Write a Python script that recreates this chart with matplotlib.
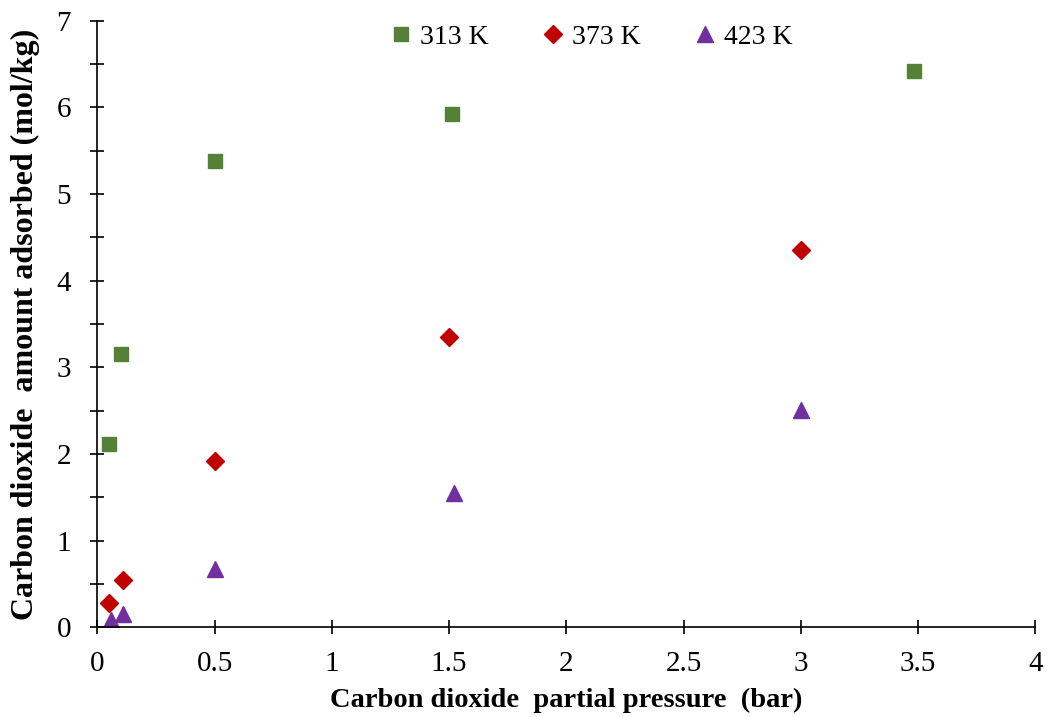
import matplotlib.pyplot as plt
from matplotlib.ticker import MultipleLocator, FuncFormatter

# Data
p_313 = [0.05, 0.1, 0.5, 1.51, 3.48]
q_313 = [2.12, 3.15, 5.38, 5.92, 6.42]

p_373 = [0.05, 0.11, 0.5, 1.5, 3.0]
q_373 = [0.28, 0.55, 1.92, 3.35, 4.35]

p_423 = [0.06, 0.11, 0.5, 1.52, 3.0]
q_423 = [0.08, 0.16, 0.67, 1.55, 2.51]

plt.rcParams['font.family'] = ['Liberation Serif', 'DejaVu Serif']

fig = plt.figure(figsize=(10.47, 7.17), dpi=100)
ax = fig.add_axes([0.093, 0.125, 0.896, 0.846])

ax.plot(p_313, q_313, 's', color='#538135', markersize=10, label='313 K', linestyle='none')
ax.plot(p_373, q_373, 'D', color='#C00000', markersize=9, label='373 K', linestyle='none')
ax.plot(p_423, q_423, '^', color='#7030A0', markersize=12, label='423 K', linestyle='none')

ax.set_xlim(0, 4)
ax.set_ylim(0, 7)
ax.xaxis.set_major_locator(MultipleLocator(0.5))
ax.yaxis.set_major_locator(MultipleLocator(1))
ax.yaxis.set_minor_locator(MultipleLocator(0.5))
ax.xaxis.set_major_formatter(FuncFormatter(lambda v, pos: '%g' % v))
ax.tick_params(which='both', direction='inout', length=10, width=1.2, labelsize=21)
ax.tick_params(axis='y', pad=14)
ax.tick_params(axis='x', pad=12)

for s in ['top', 'right']:
    ax.spines[s].set_visible(False)
for s in ['left', 'bottom']:
    ax.spines[s].set_linewidth(1.2)

ax.set_xlabel('Carbon dioxide  partial pressure  (bar)', fontsize=20.5, fontweight='bold', labelpad=8)
ax.set_ylabel('Carbon dioxide  amount adsorbed (mol/kg)', fontsize=23, fontweight='bold', labelpad=12)

ax.legend(loc='upper center', bbox_to_anchor=(0.525, 1.035), ncol=3, frameon=False, fontsize=20,
          handletextpad=0.2, columnspacing=1.8, handlelength=1.0, markerscale=1.0)

fig.savefig('out.png', dpi=100)
